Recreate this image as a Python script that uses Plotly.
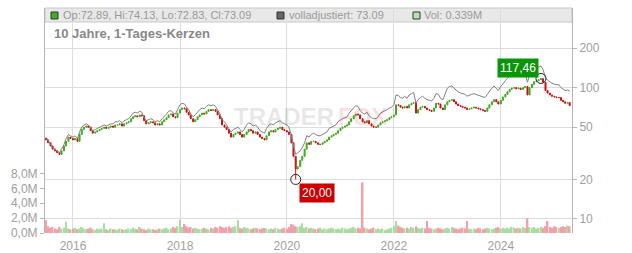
import math
import pandas as pd
import plotly.graph_objects as go

# ---------------- data ----------------
dates = pd.date_range("2015-07-01", periods=236, freq="SMS")

close = [
    40, 38, 36, 34, 33, 32, 31, 33, 36, 39, 42, 41, 40, 41, 39, 44, 48, 50, 51, 50, 47, 45, 46, 47,
    48, 49, 50, 49, 50, 51, 50, 52, 52, 53, 51, 53, 54, 55, 58, 60, 61, 60, 62, 61, 56, 53, 54, 55,
    54, 52, 53, 52, 55, 57, 59, 62, 63, 60, 59, 64, 68, 70, 69, 65, 62, 58, 55, 57, 60, 62, 64, 63,
    66, 68, 67, 68, 66, 62, 58, 52, 50, 48, 45, 42, 44, 45, 46, 44, 42, 44, 46, 48, 47, 45, 46, 44,
    42, 41, 40, 43, 46, 47, 46, 48, 49, 50, 48, 47, 46, 44, 38, 30, 24, 25, 28, 30, 34, 38, 37, 39,
    39, 38, 37, 37, 38, 39, 40, 42, 43, 44, 45, 47, 49, 50, 51, 52, 55, 58, 61, 63, 62, 58, 55, 54,
    56, 53, 51, 50, 50, 52, 54, 55, 56, 57, 59, 60, 62, 74, 73, 71, 70, 72, 70, 74, 76, 77, 64, 68,
    71, 72, 70, 68, 67, 66, 70, 76, 75, 70, 68, 74, 78, 80, 81, 78, 75, 73, 72, 71, 70, 68, 69, 70,
    71, 70, 69, 68, 67, 66, 70, 74, 78, 81, 78, 75, 80, 85, 89, 93, 97, 99, 100, 98, 99, 97, 100, 102,
    88, 100, 106, 111, 113, 115, 117, 110, 95, 91, 88, 86, 85, 84, 84, 80, 78, 76, 77, 73.09,
]

adjusted = [
    42, 40, 37, 35, 34, 33, 32, 34, 37, 41, 44, 43, 42, 43, 41, 46, 50, 52, 53, 52, 49, 47, 48, 49,
    50, 51, 52, 51, 52, 53, 53, 55, 55, 56, 54, 56, 57, 58, 61, 64, 65, 64, 66, 65, 59, 56, 57, 58,
    57, 55, 56, 55, 58, 60, 63, 66, 67, 64, 63, 68, 74, 76, 75, 71, 68, 63, 60, 62, 65, 68, 70, 69,
    72, 74, 73, 74, 72, 68, 63, 57, 55, 52, 49, 46, 48, 49, 50, 48, 46, 48, 52, 54, 53, 51, 52, 50,
    47, 46, 45, 49, 52, 53, 52, 54, 55, 56, 54, 53, 52, 50, 43, 36, 31, 32, 33, 35, 38, 43, 42, 44,
    45, 44, 43, 43, 44, 45, 46, 49, 50, 51, 52, 55, 57, 58, 59, 60, 64, 67, 71, 73, 72, 67, 64, 63,
    65, 61, 59, 58, 58, 60, 64, 65, 67, 68, 70, 71, 74, 88, 87, 84, 83, 86, 83, 88, 90, 92, 76, 81,
    84, 86, 83, 81, 80, 79, 83, 90, 89, 83, 81, 88, 99, 102, 103, 99, 95, 93, 91, 90, 89, 86, 88, 89,
    90, 89, 88, 86, 85, 84, 89, 94, 99, 103, 99, 95, 102, 108, 113, 118, 123, 126, 125, 123, 124, 121, 125, 128,
    110, 125, 133, 139, 141, 144, 146, 138, 119, 114, 110, 108, 106, 105, 105, 100, 98, 95, 96, 94,
]

# volume in units of 100k shares
volume_100k = [
    17, 9, 7, 8, 6, 5, 8, 6, 7, 15, 6, 5, 6, 7, 5, 6, 8, 6, 5, 6, 7, 5, 4, 6,
    5, 6, 13, 5, 4, 6, 5, 5, 4, 6, 5, 4, 5, 6, 5, 7, 6, 5, 8, 6, 5, 4, 6, 5,
    5, 4, 5, 6, 5, 6, 7, 5, 6, 8, 7, 9, 18, 8, 12, 9, 7, 8, 6, 7, 6, 5, 6, 7,
    6, 5, 7, 6, 8, 7, 9, 8, 7, 8, 9, 7, 8, 9, 17, 7, 6, 8, 7, 6, 5, 6, 7, 6,
    5, 6, 7, 6, 5, 6, 5, 7, 6, 5, 6, 7, 6, 8, 12, 11, 9, 8, 9, 13, 7, 8, 6, 7,
    6, 5, 6, 7, 5, 6, 5, 6, 7, 6, 5, 6, 5, 7, 6, 5, 6, 7, 8, 6, 7, 6, 68, 7,
    6, 5, 6, 7, 5, 6, 5, 6, 4, 5, 6, 7, 9, 16, 10, 8, 7, 6, 7, 6, 8, 7, 9, 7,
    6, 7, 6, 16, 7, 6, 5, 6, 7, 6, 5, 6, 7, 6, 8, 7, 6, 5, 6, 7, 6, 16, 6, 5,
    6, 5, 7, 6, 5, 6, 7, 6, 5, 6, 7, 8, 6, 7, 6, 7, 6, 8, 7, 6, 7, 6, 8, 7,
    20, 8, 7, 8, 6, 7, 8, 7, 9, 16, 8, 7, 9, 8, 7, 8, 9, 8, 10, 9,
]

first_open = 41
period_high = 117.46
period_low = 20.00
last_op, last_hi, last_lo, last_cl = 72.89, 74.13, 72.83, 73.09
last_adj = 73.09
last_vol = "0.339M"
year_ticks = [2016, 2018, 2020, 2022, 2024]
price_ticks = [10, 20, 50, 100, 200]
vol_ticks_m = [0, 2, 4, 6, 8]

# ---------------- derived OHLC ----------------
opens = [first_open] + close[:-1]
highs = [max(o, c) for o, c in zip(opens, close)]
lows = [min(o, c) for o, c in zip(opens, close)]
i_hi = close.index(max(close))
i_lo = close.index(min(close))
highs[i_hi] = period_high
lows[i_lo] = period_low
volume_m = [v / 10 for v in volume_100k]
vol_colors = ["#a9dca0" if c >= o else "#f2a0aa" for o, c in zip(opens, close)]

GREEN = "#44a822"
RED = "#cc1111"
GRID = "#dddddd"
AXIS = "#b4b4b4"
TXT = "#a0a0a0"
FONT = "Liberation Sans, Arial, sans-serif"

# plot area in pixels
L, R, T, B = 45, 572, 8, 233
W, H = 632, 253


def fx(px):
    return (px - L) / (R - L)


def fy(py):
    return (B - py) / (B - T)


fig = go.Figure()

fig.add_trace(go.Bar(
    x=dates, y=volume_m, marker=dict(color=vol_colors, line=dict(width=0)),
    yaxis="y", hoverinfo="skip", showlegend=False,
))
fig.add_trace(go.Scatter(
    x=dates, y=adjusted, mode="lines", line=dict(color="#808080", width=1),
    yaxis="y2", showlegend=False,
))
fig.add_trace(go.Candlestick(
    x=dates, open=opens, high=highs, low=lows, close=close, yaxis="y2",
    increasing=dict(line=dict(color=GREEN, width=1), fillcolor=GREEN),
    decreasing=dict(line=dict(color=RED, width=1), fillcolor=RED),
    whiskerwidth=0, showlegend=False,
))
fig.add_trace(go.Scatter(
    x=[dates[i_hi], dates[i_lo]], y=[period_high, period_low], mode="markers",
    marker=dict(symbol="circle-open", size=10, color="#222222", line=dict(width=1)),
    yaxis="y2", showlegend=False,
))

shapes = [
    dict(type="rect", xref="paper", yref="paper", x0=0, x1=1, y0=fy(22), y1=1,
         fillcolor="#e8e8e8", line=dict(color="#c8c8c8", width=1), layer="below"),
]
# legend squares
for px, fill in [(51, "#3cb31c"), (277, "#666666"), (413, "#b8e2b2")]:
    shapes.append(dict(type="rect", xref="paper", yref="paper",
                       x0=fx(px), x1=fx(px + 7), y0=fy(19), y1=fy(12),
                       fillcolor=fill, line=dict(color="#333333", width=1), layer="above"))

fmt = lambda v: f"{v:.2f}"
annotations = [
    dict(xref="paper", yref="paper", x=fx(61), y=fy(15.5), xanchor="left", yanchor="middle",
         text=f"Op:{fmt(last_op)}, Hi:{fmt(last_hi)}, Lo:{fmt(last_lo)}, Cl:{fmt(last_cl)}",
         showarrow=False, font=dict(family=FONT, size=11, color="#999999")),
    dict(xref="paper", yref="paper", x=fx(287), y=fy(15.5), xanchor="left", yanchor="middle",
         text=f"volladjustiert: {fmt(last_adj)}",
         showarrow=False, font=dict(family=FONT, size=11, color="#999999")),
    dict(xref="paper", yref="paper", x=fx(422), y=fy(15.5), xanchor="left", yanchor="middle",
         text=f"Vol: {last_vol}",
         showarrow=False, font=dict(family=FONT, size=11, color="#999999")),
    dict(xref="paper", yref="paper", x=fx(52), y=fy(33), xanchor="left", yanchor="middle",
         text="<b>10 Jahre, 1-Tages-Kerzen</b>",
         showarrow=False, font=dict(family=FONT, size=13, color="#888888")),
    # watermark
    dict(xref="paper", yref="paper", x=fx(336), y=fy(116), xanchor="right", yanchor="middle",
         text="<b>TRADER</b>", showarrow=False,
         font=dict(family=FONT, size=24, color="rgba(0,0,0,0.11)")),
    dict(xref="paper", yref="paper", x=fx(336), y=fy(116), xanchor="left", yanchor="middle",
         text="<b>FOX</b>", showarrow=False,
         font=dict(family=FONT, size=24, color="rgba(220,60,60,0.16)")),
    # high / low labels
    dict(xref="x", yref="y2", x=dates[i_hi], y=math.log10(period_high),
         text=f"{period_high:.2f}".replace(".", ","), showarrow=False,
         xanchor="right", yanchor="bottom", xshift=-2, yshift=0,
         bgcolor="#0a960a", borderpad=2, font=dict(family=FONT, size=12, color="white")),
    dict(xref="x", yref="y2", x=dates[i_lo], y=math.log10(period_low),
         text=f"{period_low:.2f}".replace(".", ","), showarrow=False,
         xanchor="left", yanchor="top", xshift=3, yshift=-4,
         bgcolor="#cc0000", borderpad=2, font=dict(family=FONT, size=12, color="white")),
]

fig.update_layout(
    width=W, height=H,
    margin=dict(l=L, r=W - R, t=T, b=H - B, pad=0, autoexpand=False),
    paper_bgcolor="white", plot_bgcolor="white",
    showlegend=False, bargap=0.15,
    font=dict(family=FONT, size=12, color=TXT),
    xaxis=dict(
        type="date", range=["2015-06-24", "2025-05-01"], automargin=False,
        tickvals=[f"{y}-01-01" for y in year_ticks], ticktext=[str(y) for y in year_ticks],
        showgrid=True, gridcolor=GRID, gridwidth=1, zeroline=False,
        showline=False, ticks="outside", ticklen=2, tickcolor="rgba(0,0,0,0)",
        tickfont=dict(family=FONT, size=12, color=TXT),
        rangeslider=dict(visible=False), fixedrange=True,
    ),
    yaxis=dict(
        side="left", range=[0, 30.2], automargin=False,
        tickvals=vol_ticks_m, ticktext=[f"{v},0M" for v in vol_ticks_m],
        showgrid=False, zeroline=False, showline=True, linecolor=AXIS, linewidth=1,
        ticks="outside", ticklen=4, tickcolor=AXIS,
        tickfont=dict(family=FONT, size=12, color=TXT),
    ),
    yaxis2=dict(
        overlaying="y", side="right", type="log", automargin=False,
        range=[math.log10(7.82), math.log10(404)],
        tickvals=price_ticks, ticktext=[str(v) for v in price_ticks],
        showgrid=True, gridcolor=GRID, gridwidth=1, zeroline=False,
        showline=True, linecolor=AXIS, linewidth=1,
        ticks="outside", ticklen=4, tickcolor=AXIS,
        tickfont=dict(family=FONT, size=12, color=TXT),
    ),
    shapes=shapes,
    annotations=annotations,
)

fig.write_html("out.html")
